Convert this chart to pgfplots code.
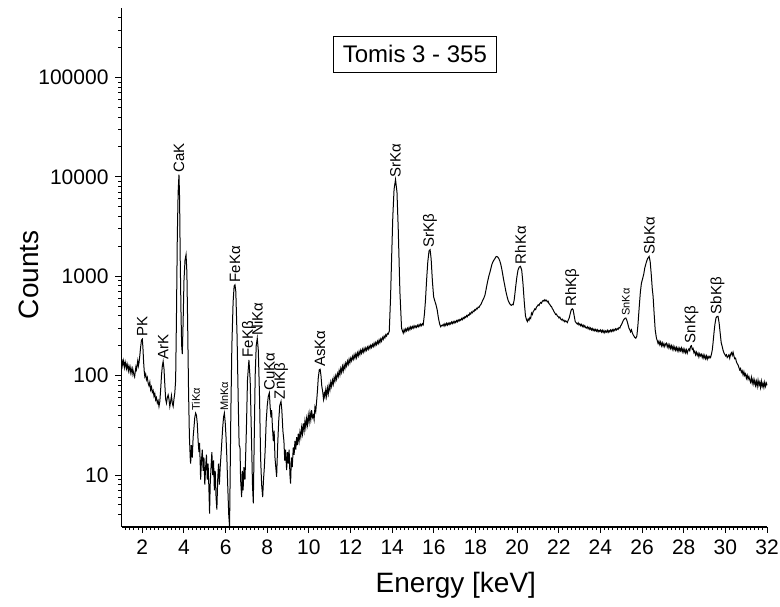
\documentclass[border=0pt]{standalone}
\usepackage{fontspec}
\setmainfont{Liberation Sans}
\usepackage{pgfplots}
\pgfplotsset{compat=1.18}
\begin{document}
\begin{tikzpicture}[
  lbl/.style={rotate=90, anchor=west, inner sep=1bp, font=\fontsize{7.5bp}{9bp}\selectfont},
  lbs/.style={rotate=90, anchor=west, inner sep=1bp, font=\fontsize{5.5bp}{6.5bp}\selectfont}]
\useasboundingbox (0,0) rectangle (390bp,303.5bp);
\begin{axis}[
  at={(60.75bp,40bp)}, anchor=south west,
  scale only axis, width=322.75bp, height=259.5bp,
  xmin=1, xmax=32, ymode=log, ymin=3, ymax=5e5,
  axis x line=bottom, axis y line=left,
  axis line style={-, line width=0.7bp},
  xtick={2,4,...,32},
  xticklabels={2,4,6,8,10,12,14,16,18,20,22,24,26,28,30,32},
  minor xtick={1.2,1.4,...,31.9},
  ytick={10,100,1000,10000,100000},
  yticklabels={10,100,1000,10000,100000},
  minor ytick={4,5,6,7,8,9,20,30,40,50,60,70,80,90,200,300,400,500,600,700,800,900,2000,3000,4000,5000,6000,7000,8000,9000,20000,30000,40000,50000,60000,70000,80000,90000,200000,300000,400000},
  tick align=outside,
  major tick length=3bp, minor tick length=1.6bp,
  tick style={black, line width=0.5bp},
  /pgf/number format/assume math mode=true,
  tick label style={font=\fontsize{10.5bp}{12bp}\selectfont},
  xlabel={Energy [keV]}, ylabel={Counts},
  label style={font=\fontsize{14bp}{16bp}\selectfont},
  xlabel style={at={(axis description cs:0.518,-0.112)}, anchor=center},
  ylabel style={at={(axis description cs:-0.144,0.486)}, anchor=center},
  clip=false,
]
\addplot[black, line width=0.5bp] coordinates {
(1.00,130) (1.03,138) (1.06,126) (1.09,142) (1.12,133) (1.15,121) (1.18,137) (1.21,128) (1.24,118) (1.27,131)
(1.30,122) (1.33,112) (1.36,125) (1.39,118) (1.42,108) (1.45,121) (1.48,113) (1.51,104) (1.54,117) (1.57,109)
(1.60,101) (1.63,97) (1.66,110) (1.69,122) (1.72,115) (1.75,128) (1.78,141) (1.81,125) (1.84,134) (1.88,160)
(1.92,195) (1.96,228) (2.00,233) (2.03,190) (2.06,140) (2.09,112) (2.12,98) (2.16,104) (2.20,91) (2.24,96)
(2.28,84) (2.32,79) (2.36,86) (2.40,72) (2.44,77) (2.48,68) (2.52,71) (2.56,62) (2.60,66) (2.64,57)
(2.68,60) (2.72,53) (2.76,56) (2.80,49) (2.84,55) (2.88,72) (2.92,100) (2.96,125) (3.00,139) (3.04,118)
(3.08,82) (3.12,58) (3.16,53) (3.20,60) (3.24,64) (3.28,58) (3.32,49) (3.36,55) (3.40,63) (3.44,53)
(3.48,49) (3.52,58) (3.56,67) (3.60,90)
(3.64,400) (3.68,2500) (3.72,7000) (3.76,10540) (3.79,6000) (3.82,1500) (3.86,400) (3.89,200) (3.92,165)
(3.96,350) (4.00,900) (4.05,1450) (4.10,1650) (4.14,1100) (4.18,300) (4.22,70) (4.26,25) (4.30,15) (4.32,13)
(4.36,20) (4.40,15) (4.44,24) (4.48,30) (4.52,38) (4.56,42) (4.60,40) (4.64,33) (4.68,22) (4.72,17)
(4.75,21) (4.78,13) (4.80,9) (4.84,14) (4.88,18) (4.92,11) (4.96,15) (5.00,8) (5.04,12) (5.08,16)
(5.12,9) (5.16,13) (5.20,7) (5.23,4.1) (5.26,8) (5.30,12) (5.34,17) (5.38,10) (5.42,14) (5.46,7)
(5.50,11) (5.54,6) (5.58,4.5) (5.62,9) (5.66,13) (5.70,8) (5.74,12) (5.78,16) (5.82,22) (5.86,30)
(5.90,38) (5.94,42) (5.98,34) (6.02,24) (6.06,15) (6.10,8) (6.15,4) (6.19,3.0)
(6.25,40) (6.30,200) (6.36,550) (6.41,800) (6.45,820) (6.49,700) (6.55,250) (6.61,50) (6.65,20) (6.69,19)
(6.72,9) (6.77,6) (6.80,11) (6.84,7) (6.88,12) (6.93,9) (7.00,30) (7.05,90) (7.12,144) (7.18,90)
(7.24,25) (7.29,8) (7.33,5.2) (7.37,20) (7.42,100) (7.47,200) (7.52,238) (7.57,180) (7.63,60) (7.68,15)
(7.73,8) (7.78,6) (7.82,9) (7.86,12) (7.90,18) (7.95,35) (8.00,50) (8.05,62) (8.10,67) (8.14,48)
(8.18,38) (8.21,45) (8.25,30) (8.29,22) (8.33,28) (8.37,15) (8.41,12) (8.45,9.6) (8.50,20) (8.55,35)
(8.60,50) (8.66,55) (8.70,45) (8.75,28) (8.80,22) (8.84,14) (8.88,18) (8.93,11.2) (8.97,17) (9.01,13)
(9.05,18) (9.09,10) (9.12,8.2) (9.16,15) (9.20,12) (9.25,19) (9.29,16) (9.33,22) (9.37,18) (9.41,24)
(9.45,20) (9.49,26) (9.53,22) (9.57,27) (9.61,24) (9.65,30) (9.69,26) (9.73,33) (9.77,28) (9.81,35)
(9.85,30) (9.89,37) (9.93,32) (9.97,40) (10.01,34) (10.05,42) (10.09,36) (10.13,45) (10.17,38) (10.21,40)
(10.25,36) (10.29,48) (10.33,44) (10.37,55) (10.41,70) (10.45,95) (10.50,115) (10.54,116) (10.58,100) (10.62,78)
(10.66,70) (10.70,58) (10.74,66) (10.77,61) (10.81,72) (10.85,62) (10.89,75) (10.93,66) (10.97,80) (11.01,72)
(11.05,86) (11.09,78) (11.13,90) (11.17,82) (11.21,96) (11.25,88) (11.29,100) (11.33,92) (11.37,105) (11.41,98)
(11.45,112) (11.49,102) (11.53,118) (11.57,108) (11.61,124) (11.65,112) (11.69,128) (11.73,118) (11.77,134) (11.81,125)
(11.85,140) (11.89,130) (11.93,146) (11.97,135) (12.01,150) (12.05,141) (12.09,156) (12.13,146) (12.17,162) (12.21,150)
(12.25,165) (12.29,152) (12.33,170) (12.37,158) (12.41,175) (12.45,163) (12.49,180) (12.53,168) (12.57,184) (12.61,172)
(12.65,188) (12.69,176) (12.73,190) (12.77,180) (12.81,194) (12.85,184) (12.89,198) (12.93,188) (12.97,202) (13.01,192)
(13.05,206) (13.09,196) (13.13,212) (13.17,200) (13.21,216) (13.25,205) (13.29,222) (13.33,210) (13.37,228) (13.41,215)
(13.45,234) (13.49,222) (13.53,242) (13.57,232) (13.61,250) (13.65,240) (13.69,258) (13.73,250) (13.77,266) (13.81,262)
(13.86,280) (13.92,600) (13.97,1470) (14.03,4000) (14.09,7500) (14.16,9400) (14.23,7000) (14.29,3000) (14.37,700) (14.45,300)
(14.53,268) (14.57,290) (14.61,275) (14.65,295) (14.69,282) (14.73,300) (14.77,286) (14.81,305) (14.85,290) (14.89,310)
(14.93,296) (14.97,312) (15.01,300) (15.05,318) (15.09,304) (15.13,316) (15.17,306) (15.21,322) (15.25,310) (15.29,326)
(15.33,314) (15.37,330) (15.41,318) (15.45,332) (15.49,324)
(15.55,420) (15.60,580) (15.65,900) (15.71,1400) (15.77,1800) (15.82,1850) (15.87,1500) (15.93,900) (15.99,620) (16.05,560)
(16.10,520) (16.16,460) (16.22,380) (16.28,330) (16.33,310) (16.37,320)
(16.41,318) (16.45,328) (16.49,315) (16.53,332) (16.57,320) (16.61,336) (16.65,322) (16.69,338) (16.73,326) (16.77,340)
(16.81,330) (16.85,346) (16.89,334) (16.93,350) (16.97,338) (17.01,352) (17.05,342) (17.09,358) (17.13,348) (17.17,364)
(17.21,354) (17.25,368) (17.29,360) (17.33,376) (17.37,366) (17.41,384) (17.45,374) (17.49,392) (17.53,384) (17.57,402)
(17.61,392) (17.65,410) (17.69,404) (17.73,426) (17.77,416) (17.81,436) (17.85,428) (17.89,448) (17.93,442) (17.97,462)
(18.01,456) (18.05,476) (18.09,470) (18.13,490) (18.17,486) (18.21,505) (18.26,520) (18.31,550) (18.36,580) (18.41,610)
(18.45,640) (18.50,720) (18.55,820) (18.60,920) (18.65,1020) (18.69,1090) (18.74,1200) (18.79,1320) (18.84,1400) (18.89,1460)
(18.93,1500) (18.97,1560) (19.01,1580) (19.05,1570) (19.09,1540) (19.13,1490) (19.17,1420) (19.21,1330) (19.25,1220) (19.29,1100)
(19.33,980) (19.37,880) (19.41,800) (19.45,720) (19.49,660) (19.53,610) (19.57,570) (19.62,540) (19.67,520) (19.72,510)
(19.77,520) (19.81,516)
(19.86,580) (19.92,750) (19.98,960) (20.04,1150) (20.10,1240) (20.16,1256) (20.22,1150) (20.28,850) (20.34,560) (20.40,400)
(20.45,365) (20.49,350) (20.53,372) (20.57,360) (20.61,384) (20.65,376) (20.69,426) (20.73,412) (20.77,440) (20.81,452)
(20.85,470) (20.89,462) (20.93,490) (20.97,500) (21.01,516) (21.05,508) (21.09,530) (21.13,545) (21.17,535) (21.21,560)
(21.25,572) (21.29,562) (21.33,580) (21.37,566) (21.41,574) (21.45,552) (21.49,560) (21.53,530) (21.57,520) (21.61,500)
(21.65,497) (21.69,472) (21.73,460) (21.77,440) (21.81,428) (21.85,412) (21.89,416) (21.93,398) (21.97,394) (22.01,380)
(22.05,388) (22.09,372) (22.13,364) (22.17,370) (22.21,356) (22.25,362) (22.29,348) (22.33,356) (22.37,351) (22.41,342)
(22.45,360) (22.50,380) (22.55,420) (22.60,460) (22.65,470) (22.69,460) (22.74,400) (22.79,350) (22.85,337) (22.89,330)
(22.93,340) (22.97,324) (23.01,332) (23.05,318) (23.09,328) (23.13,312) (23.17,322) (23.21,308) (23.25,318) (23.29,304)
(23.33,301) (23.37,310) (23.41,296) (23.45,306) (23.49,292) (23.53,302) (23.57,288) (23.61,298) (23.65,284) (23.69,294)
(23.73,282) (23.77,292) (23.81,280) (23.85,290) (23.89,276) (23.93,286) (23.97,278) (24.01,288) (24.05,274) (24.09,286)
(24.13,272) (24.17,284) (24.21,270) (24.25,282) (24.29,274) (24.33,286) (24.37,272) (24.41,284) (24.45,276) (24.49,288)
(24.53,278) (24.57,290) (24.61,280) (24.65,292) (24.69,284) (24.73,296) (24.77,288) (24.81,298) (24.85,292) (24.89,304)
(24.93,301) (24.97,316) (25.01,326) (25.05,340) (25.09,356) (25.13,368) (25.18,378) (25.22,380) (25.27,360) (25.32,330)
(25.37,300) (25.41,290) (25.45,276) (25.49,289) (25.53,270) (25.57,258) (25.61,250) (25.65,242) (25.70,238)
(25.75,250) (25.80,320) (25.86,480) (25.92,700) (25.97,853) (26.03,950) (26.08,1050) (26.13,1210) (26.19,1350) (26.26,1500)
(26.34,1582) (26.39,1400) (26.44,1050) (26.49,750) (26.53,626) (26.58,420) (26.63,290) (26.69,238)
(26.73,225) (26.77,210) (26.81,222) (26.85,205) (26.89,218) (26.93,200) (26.97,214) (27.01,198) (27.05,210) (27.09,196)
(27.13,208) (27.17,212) (27.21,194) (27.25,206) (27.29,190) (27.33,204) (27.37,188) (27.41,200) (27.45,184) (27.49,198)
(27.53,182) (27.57,194) (27.61,180) (27.65,192) (27.69,178) (27.73,190) (27.77,176) (27.81,189) (27.85,178) (27.89,190)
(27.93,174) (27.97,186) (28.01,172) (28.05,184) (28.09,170) (28.13,182) (28.17,168) (28.21,180) (28.25,186) (28.29,178)
(28.33,198) (28.37,200) (28.41,184) (28.45,188) (28.49,170) (28.53,176) (28.57,162) (28.61,172) (28.65,160) (28.69,168)
(28.73,154) (28.77,166) (28.81,158) (28.85,164) (28.89,152) (28.93,162) (28.97,150) (29.01,160) (29.05,148) (29.09,158)
(29.13,146) (29.17,156) (29.21,150) (29.25,156) (29.29,152) (29.33,164) (29.37,180) (29.41,215) (29.45,265) (29.50,330)
(29.55,380) (29.60,394) (29.65,394) (29.70,340) (29.75,270) (29.80,215) (29.85,196) (29.89,180) (29.93,170) (29.97,164)
(30.01,158) (30.05,162) (30.09,152) (30.13,156) (30.17,162) (30.21,150) (30.25,164) (30.29,170) (30.33,160) (30.37,172)
(30.41,158) (30.45,148) (30.49,150) (30.53,138) (30.57,132) (30.61,128) (30.65,121) (30.69,114) (30.73,118) (30.77,108)
(30.81,112) (30.85,102) (30.89,110) (30.93,100) (30.97,104) (31.01,94) (31.05,101) (31.09,92) (31.13,98) (31.17,91)
(31.21,86) (31.25,96) (31.29,84) (31.33,92) (31.37,82) (31.41,90) (31.45,80) (31.49,88) (31.53,78) (31.57,90)
(31.61,80) (31.65,86) (31.69,76) (31.73,88) (31.77,78) (31.81,84) (31.85,76) (31.89,86) (31.93,78) (31.97,84) (32.00,80)
};
\node[lbl] at (axis cs:2.00,233) {PK};
\node[lbl] at (axis cs:3.00,139) {ArK};
\node[lbl] at (axis cs:3.76,10540) {CaK};
\node[lbs] at (axis cs:4.58,42) {TiKα};
\node[lbs] at (axis cs:5.94,42) {MnKα};
\node[lbl] at (axis cs:6.45,820) {FeKα};
\node[lbl] at (axis cs:7.12,144) {FeKβ};
\node[lbl] at (axis cs:7.52,238) {NiKα};
\node[lbl] at (axis cs:8.10,67) {CuKα};
\node[lbl] at (axis cs:8.66,55) {ZnKβ};
\node[lbl] at (axis cs:10.54,116) {AsKα};
\node[lbl] at (axis cs:14.16,9400) {SrKα};
\node[lbl] at (axis cs:15.82,1850) {SrKβ};
\node[lbl] at (axis cs:20.16,1256) {RhKα};
\node[lbl] at (axis cs:22.65,470) {RhKβ};
\node[lbs] at (axis cs:25.22,380) {SnKα};
\node[lbl] at (axis cs:26.34,1582) {SbKα};
\node[lbl] at (axis cs:28.37,200) {SnKβ};
\node[lbl] at (axis cs:29.62,394) {SbKβ};
\node[draw, line width=0.6bp, inner sep=3bp, minimum width=81.5bp, minimum height=18bp,
      font=\fontsize{12bp}{14bp}\selectfont] at (axis cs:15.09,171000) {Tomis 3 - 355};
\end{axis}
\end{tikzpicture}
\end{document}
